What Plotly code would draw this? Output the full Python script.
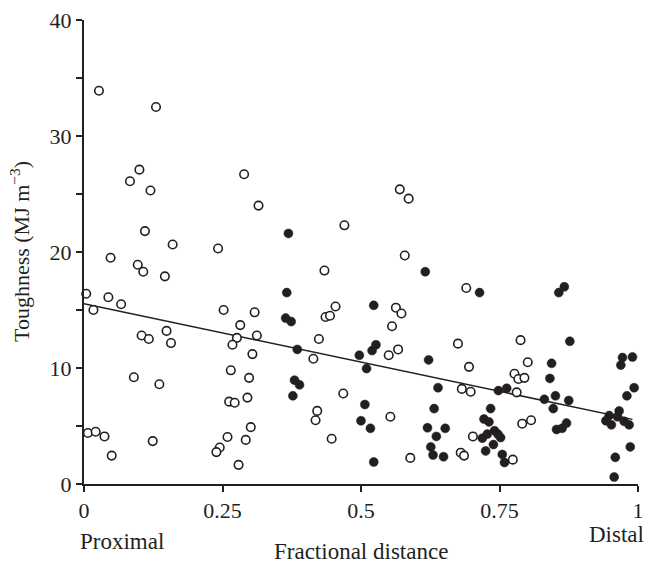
import plotly.graph_objects as go

# Open circles
open_x = [0.027, 0.130, 0.100, 0.083, 0.120, 0.289, 0.315, 0.110, 0.160, 0.242,
          0.048, 0.097, 0.107, 0.146, 0.004, 0.044, 0.067, 0.017, 0.252, 0.308,
          0.282, 0.276, 0.268, 0.312, 0.304, 0.149, 0.104, 0.117, 0.157, 0.090,
          0.136, 0.265, 0.298, 0.262, 0.272, 0.295, 0.301, 0.259, 0.292, 0.245,
          0.239, 0.279, 0.007, 0.021, 0.037, 0.050, 0.124, 0.570, 0.586, 0.470,
          0.579, 0.434, 0.690, 0.454, 0.436, 0.444, 0.563, 0.573, 0.556, 0.424,
          0.675, 0.567, 0.414, 0.550, 0.682, 0.468, 0.421, 0.418, 0.553, 0.447,
          0.589, 0.680, 0.686, 0.788, 0.695, 0.801, 0.777, 0.784, 0.795, 0.698,
          0.781, 0.791, 0.807, 0.702, 0.774]
open_y = [33.9, 32.5, 27.1, 26.1, 25.3, 26.7, 24.0, 21.8, 20.65, 20.3,
          19.5, 18.9, 18.3, 17.9, 16.4, 16.1, 15.5, 15.0, 15.0, 14.8,
          13.7, 12.6, 12.0, 12.8, 11.2, 13.2, 12.8, 12.5, 12.15, 9.2,
          8.6, 9.8, 9.15, 7.1, 7.0, 7.45, 4.9, 4.05, 3.8, 3.15,
          2.75, 1.65, 4.4, 4.5, 4.1, 2.45, 3.7, 25.4, 24.6, 22.3,
          19.7, 18.4, 16.9, 15.3, 14.4, 14.5, 15.2, 14.7, 13.6, 12.5,
          12.1, 11.6, 10.8, 11.1, 8.2, 7.8, 6.3, 5.5, 5.8, 3.9,
          2.25, 2.7, 2.45, 12.4, 10.1, 10.5, 9.5, 9.05, 9.15, 7.95,
          7.9, 5.2, 5.5, 4.1, 2.1]

# Filled circles
filled_x = [0.369, 0.366, 0.364, 0.374, 0.616, 0.523, 0.385, 0.497, 0.527, 0.520,
            0.510, 0.622, 0.639, 0.380, 0.389, 0.377, 0.507, 0.500, 0.517, 0.632,
            0.620, 0.652, 0.636, 0.626, 0.630, 0.649, 0.523, 0.714, 0.867, 0.857,
            0.877, 0.844, 0.841, 0.748, 0.763, 0.831, 0.851, 0.875, 0.847, 0.734,
            0.722, 0.731, 0.853, 0.863, 0.871, 0.719, 0.728, 0.741, 0.747, 0.752,
            0.739, 0.725, 0.755, 0.759, 0.972, 0.969, 0.990, 0.993, 0.980, 0.966,
            0.948, 0.942, 0.952, 0.963, 0.975, 0.984, 0.986, 0.959, 0.957]
filled_y = [21.6, 16.5, 14.3, 14.0, 18.3, 15.4, 11.6, 11.1, 12.0, 11.5,
            9.95, 10.7, 8.3, 8.95, 8.55, 7.6, 6.85, 5.45, 4.8, 6.5,
            4.85, 4.8, 4.1, 3.2, 2.5, 2.35, 1.9, 16.5, 17.0, 16.5,
            12.3, 10.4, 9.1, 8.05, 8.25, 7.3, 7.6, 7.2, 6.5, 6.5,
            5.6, 5.35, 4.7, 4.8, 5.25, 3.95, 4.3, 4.6, 4.3, 4.0,
            3.4, 2.85, 2.55, 1.85, 10.9, 10.25, 10.95, 8.3, 7.6, 6.3,
            5.9, 5.45, 5.1, 5.8, 5.4, 5.1, 3.2, 2.3, 0.6]

# Regression line
fit_intercept = 15.54
fit_slope = -10.07
line_x = [0.0, 0.99]
line_y = [fit_intercept + fit_slope * v for v in line_x]

x_tickvals = [0, 0.25, 0.5, 0.75, 1]
x_ticktext = ["0", "0.25", "0.5", "0.75", "1"]

INK = "#231f20"
FONT = "Liberation Serif, Times New Roman, serif"

fig = go.Figure()
fig.add_trace(go.Scatter(x=line_x, y=line_y, mode="lines",
                         line=dict(color=INK, width=1.5), showlegend=False,
                         cliponaxis=False, hoverinfo="skip"))
fig.add_trace(go.Scatter(x=open_x, y=open_y, mode="markers",
                         marker=dict(symbol="circle", size=8.5, color="white",
                                     line=dict(color=INK, width=1.6)),
                         showlegend=False, cliponaxis=False))
fig.add_trace(go.Scatter(x=filled_x, y=filled_y, mode="markers",
                         marker=dict(symbol="circle", size=9, color=INK,
                                     line=dict(color=INK, width=0.5)),
                         showlegend=False, cliponaxis=False))

fig.update_layout(
    width=652, height=566,
    margin=dict(l=84, r=8, t=19, b=82),
    paper_bgcolor="white", plot_bgcolor="white",
    font=dict(family=FONT, size=22, color=INK),
    xaxis=dict(range=[0, 1], tickvals=x_tickvals, ticktext=x_ticktext,
               showgrid=False, zeroline=False, showline=True, linecolor=INK,
               linewidth=2, ticks="outside", ticklen=6, tickwidth=1.5,
               tickcolor=INK, tickfont=dict(size=22)),
    yaxis=dict(range=[0, 40], tick0=0, dtick=10,
               showgrid=False, zeroline=False, showline=True, linecolor=INK,
               linewidth=2, ticks="outside", ticklen=6, tickwidth=1.5,
               tickcolor=INK, tickfont=dict(size=22),
               minor=dict(dtick=5, tick0=0, ticks="outside", ticklen=6,
                          tickwidth=1.5, tickcolor=INK, showgrid=False)),
    annotations=[
        dict(text="Toughness (MJ m<sup>\u22123</sup>)", xref="paper", yref="paper",
             x=0, y=0.5, xshift=-64, textangle=-90, showarrow=False,
             xanchor="center", yanchor="middle", font=dict(size=22)),
        dict(text="Fractional distance", xref="paper", yref="paper",
             x=0.5, y=0, yshift=-67, showarrow=False,
             xanchor="center", yanchor="middle", font=dict(size=23)),
        dict(text="Proximal", xref="paper", yref="paper",
             x=0, y=0, xshift=-6, yshift=-57, showarrow=False,
             xanchor="left", yanchor="middle", font=dict(size=23)),
        dict(text="Distal", xref="paper", yref="paper",
             x=1, y=0, xshift=8, yshift=-50, showarrow=False,
             xanchor="right", yanchor="middle", font=dict(size=23)),
    ],
)

fig.write_html("out.html", config={"displayModeBar": False},
               post_script="document.body.style.margin='0';")
